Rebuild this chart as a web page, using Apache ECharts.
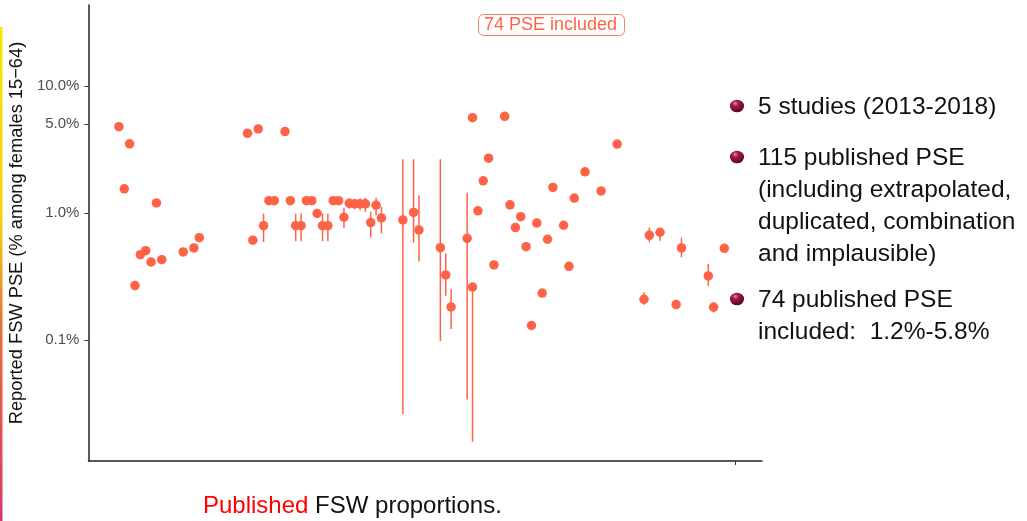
<!DOCTYPE html>
<html><head><meta charset="utf-8">
<script src="https://cdn.jsdelivr.net/npm/echarts@6/dist/echarts.min.js"></script>
<style>html,body{margin:0;padding:0;background:#fff}#c{width:1027px;height:521px}</style>
</head><body><div id="c"></div>
<script>
// x position (study/estimate index) of each included PSE
const idx = [1,2,3,4,5,6,7,8,9,13,15,16,
  25,26,27,28,29,30,32,33,34,35,36,37,38,39,40,41,42,43,44,45,46,47,48,49,50,
  54,56,57,61,62,63,
  66,67,67,68,69,70,71,73,74,75,76,77,78,79,80,81,82,84,85,86,88,91,94,
  99,100,102,105,106,111,112,114];
// reported PSE (% among females 15-64)
const pse = [4.78,1.55,3.5,0.268,0.469,0.505,0.411,1.2,0.429,0.493,0.53,0.639,
  4.24,0.61,4.59,0.794,1.25,1.25,4.37,1.25,0.794,0.794,1.25,1.25,0.99,0.794,0.794,1.25,1.25,0.925,1.19,1.18,1.18,1.18,0.84,1.15,0.913,
  0.881,1.01,0.735,0.533,0.325,0.182,
  0.632,5.63,0.261,1.04,1.79,2.70,0.39,5.77,1.16,0.767,0.935,0.543,0.130,0.834,0.234,0.621,1.59,0.80,0.38,1.31,2.11,1.49,3.49,
  0.209,0.667,0.705,0.19,0.53,0.319,0.181,0.527];
// lower / upper bounds (null = no interval shown)
const lo = [null,null,null,null,null,null,null,null,null,null,null,null,
  null,null,null,0.59,null,null,null,null,0.60,0.60,null,null,null,0.60,0.60,null,null,0.76,1.08,1.07,1.05,1.02,0.64,0.96,0.69,
  0.026,0.584,0.414,0.098,0.223,0.122,
  0.034,null,0.0158,null,null,null,null,null,null,null,null,null,null,null,null,null,null,null,null,null,null,null,null,
  0.189,0.588,0.605,null,0.448,0.266,0.164,null];
const hi = [null,null,null,null,null,null,null,null,null,null,null,null,
  null,null,null,0.99,null,null,null,null,0.99,0.99,null,null,null,0.99,0.99,null,null,1.1,1.3,1.28,1.3,1.32,1.02,1.32,1.12,
  2.65,2.65,1.37,2.65,0.48,0.251,
  1.44,null,0.27,null,null,null,null,null,null,null,null,null,null,null,null,null,null,null,null,null,null,null,null,
  0.237,0.766,0.76,null,0.64,0.397,0.20,null];
const yTicks = [0.1, 1, 5, 10];
const xTicks = [116];
const boxLabel = '74 PSE included';
const xTitle = ['Published', ' FSW proportions.'];
const yTitle = 'Reported FSW PSE (% among females 15\u221264)';
const notes = [
  ['5 studies (2013-2018)'],
  ['115 published PSE', '(including extrapolated,', 'duplicated, combination', 'and implausible)'],
  ['74 published PSE', 'included:  1.2%-5.8%']
];

const FONT = '"Liberation Sans", Arial, sans-serif';
const COL = '#ff6347';

const points = idx.map((x, i) => [x, pse[i]]);
const bars = [];
idx.forEach((x, i) => { if (lo[i] != null) bars.push([x, lo[i], hi[i]]); });

// right-side notes as graphic text
const graphics = [];
const noteTop = [107, 158, 300];
const lineH = 32;
notes.forEach((grp, g) => {
  graphics.push({
    type: 'circle', x: 737, y: noteTop[g] - 1, scaleX: 1.12,
    shape: {cx: 0, cy: 0, r: 6.3},
    style: {fill: new echarts.graphic.RadialGradient(0.38, 0.3, 0.75, [
      {offset: 0, color: '#e88aa2'}, {offset: 0.3, color: '#a01a44'}, {offset: 1, color: '#560520'}])}
  });
  grp.forEach((t, k) => {
    graphics.push({
      type: 'text', x: 758, y: noteTop[g] + k * lineH,
      style: {text: t, fill: '#111', fontSize: 24.5, fontFamily: FONT, verticalAlign: 'middle', align: 'left'}
    });
  });
});
// slide accent on the left edge
graphics.push({
  type: 'rect', x: 0, y: 27, shape: {width: 2.5, height: 494},
  style: {fill: new echarts.graphic.LinearGradient(0, 0, 0, 1, [
    {offset: 0, color: '#f5e800'}, {offset: 0.4, color: '#f3d010'},
    {offset: 0.6, color: '#e8703a'}, {offset: 1, color: '#d8386a'}])}
});

const chart = echarts.init(document.getElementById('c'), null, {renderer: 'canvas'});
chart.setOption({
  animation: false,
  backgroundColor: '#fff',
  title: [{
    text: boxLabel, left: 478, top: 14,
    padding: [2, 8, 2, 6], borderColor: '#f4836d', borderWidth: 1, borderRadius: 5,
    textStyle: {color: COL, fontSize: 18, fontWeight: 'normal', fontFamily: FONT}
  }, {
    text: '{r|' + xTitle[0] + '}' + xTitle[1], left: 203, top: 494, padding: 0,
    textStyle: {color: '#111', fontSize: 24, fontWeight: 'normal', fontFamily: FONT,
      rich: {r: {color: '#ff0000', fontSize: 24, fontFamily: FONT}}}
  }],
  grid: {left: 88, right: 265, top: 5, bottom: 60, containLabel: false},
  xAxis: {
    type: 'value', min: -4.69, max: 121.03,
    axisLine: {show: true, onZero: false, lineStyle: {color: '#222', width: 1.5}},
    axisTick: {show: true, customValues: xTicks, length: 4, lineStyle: {color: '#333'}},
    axisLabel: {show: false},
    splitLine: {show: false}
  },
  yAxis: {
    type: 'log', logBase: 10, min: 0.01114, max: 43.4,
    name: yTitle, nameLocation: 'middle', nameRotate: 90, nameGap: 61,
    nameTextStyle: {color: '#111', fontSize: 18.3, fontFamily: FONT},
    axisLine: {show: true, onZero: false, lineStyle: {color: '#222', width: 1.5}},
    axisTick: {show: true, customValues: yTicks, length: 4, lineStyle: {color: '#333'}},
    axisLabel: {customValues: yTicks, color: '#4d4d4d', fontSize: 15, fontFamily: FONT, margin: 9,
      formatter: v => Number(v).toFixed(1) + '%'},
    splitLine: {show: false}
  },
  series: [{
    type: 'custom', data: bars, z: 2,
    renderItem: (params, api) => {
      const x = api.value(0);
      const p1 = api.coord([x, api.value(1)]);
      const p2 = api.coord([x, api.value(2)]);
      return {type: 'line', shape: {x1: p1[0], y1: p1[1], x2: p2[0], y2: p2[1]},
        style: {stroke: COL, lineWidth: 1.5}};
    }
  }, {
    type: 'scatter', data: points, symbolSize: 9.5, z: 3,
    itemStyle: {color: COL, opacity: 1}
  }],
  graphic: graphics
});
</script></body></html>
